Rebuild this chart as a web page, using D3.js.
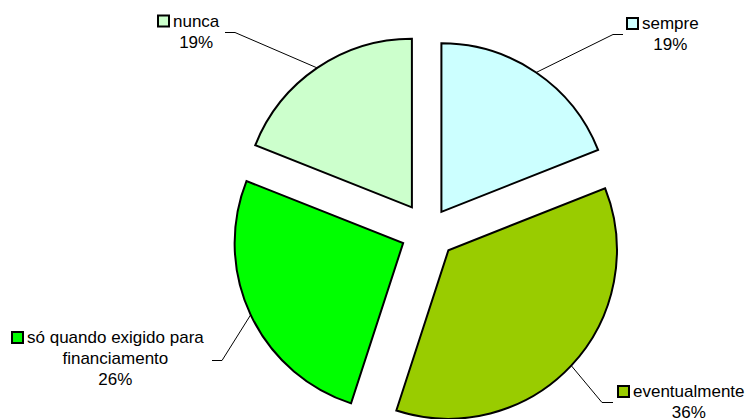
<!DOCTYPE html>
<html>
<head>
<meta charset="utf-8">
<script src="https://cdn.jsdelivr.net/npm/d3@7"></script>
<style>
  html, body { margin: 0; padding: 0; background: #fff; }
  svg { display: block; }
  text { font-family: "Liberation Sans", Arial, sans-serif; font-size: 17px; fill: #000; }
</style>
</head>
<body>
<svg id="chart" width="746" height="419"></svg>
<script>
// Survey answers, clockwise from 12 o'clock
const categories = ["sempre", "eventualmente", "só quando exigido para financiamento", "nunca"];
const values = [19, 36, 26, 19];
const labelLines = [
  ["sempre"],
  ["eventualmente"],
  ["só quando exigido para", "financiamento"],
  ["nunca"]
];
const colors = ["#CCFFFF", "#99CC00", "#00FF00", "#CCFFCC"];

// How far each slice is pulled out from the centre
const explodeBy = [23.5, 27.7, 27.7, 29];

// Label placement: text start x, first baseline y, leader elbow and end
const labelLayout = [
  { tx: 642, ty: 29,  elbow: [613, 34.5],  end: [623, 34.5] },
  { tx: 633, ty: 397, elbow: [602, 402.5], end: [613, 402.5] },
  { tx: 27,  ty: 343, elbow: [222, 360.5], end: [212, 360.5] },
  { tx: 173, ty: 26.5, elbow: [235, 32.5], end: [225, 32.5] }
];

const cx = 428.2, cy = 231.3, radius = 168.5, lineH = 21;

const svg = d3.select("#chart");
const total = d3.sum(values);

const pie = d3.pie().sort(null).value(d => d.value).startAngle(0).endAngle(2 * Math.PI);
const arc = d3.arc().innerRadius(0).outerRadius(radius);

const data = categories.map((c, i) => ({ name: c, value: values[i], i }));
const arcs = pie(data);

const g = svg.append("g").attr("transform", `translate(${cx},${cy})`);

// Offset of each exploded slice along its mid-angle
function offset(a) {
  const m = (a.startAngle + a.endAngle) / 2;
  const e = explodeBy[a.data.i];
  return [e * Math.sin(m), -e * Math.cos(m)];
}

g.selectAll("path.slice")
  .data(arcs)
  .join("path")
  .attr("class", "slice")
  .attr("transform", d => { const o = offset(d); return `translate(${o[0]},${o[1]})`; })
  .attr("d", arc)
  .attr("fill", d => colors[d.data.i])
  .attr("stroke", "#000")
  .attr("stroke-width", 2)
  .attr("stroke-linejoin", "miter");

// Leader lines from the arc midpoint to each label
arcs.forEach(d => {
  const o = offset(d);
  const m = (d.startAngle + d.endAngle) / 2;
  const sx = cx + o[0] + radius * Math.sin(m);
  const sy = cy + o[1] - radius * Math.cos(m);
  const L = labelLayout[d.data.i];
  svg.append("polyline")
    .attr("points", `${sx},${sy} ${L.elbow[0]},${L.elbow[1]} ${L.end[0]},${L.end[1]}`)
    .attr("fill", "none")
    .attr("stroke", "#000")
    .attr("stroke-width", 1);
});

// Labels: legend key, name lines and percentage
arcs.forEach(d => {
  const i = d.data.i;
  const L = labelLayout[i];
  const lines = labelLines[i];
  const lab = svg.append("g");

  lab.append("rect")
    .attr("x", L.tx - 15)
    .attr("y", L.ty - 11)
    .attr("width", 11)
    .attr("height", 11)
    .attr("fill", colors[i])
    .attr("stroke", "#000")
    .attr("stroke-width", 2);

  const first = lab.append("text")
    .attr("x", L.tx)
    .attr("y", L.ty)
    .text(lines[0]);
  const w = first.node().getComputedTextLength();
  const mid = L.tx + w / 2;

  lines.slice(1).forEach((t, k) => {
    lab.append("text")
      .attr("x", mid)
      .attr("y", L.ty + lineH * (k + 1))
      .attr("text-anchor", "middle")
      .text(t);
  });

  lab.append("text")
    .attr("x", mid)
    .attr("y", L.ty + lineH * lines.length)
    .attr("text-anchor", "middle")
    .text(Math.round(d.data.value / total * 100) + "%");
});
</script>
</body>
</html>
